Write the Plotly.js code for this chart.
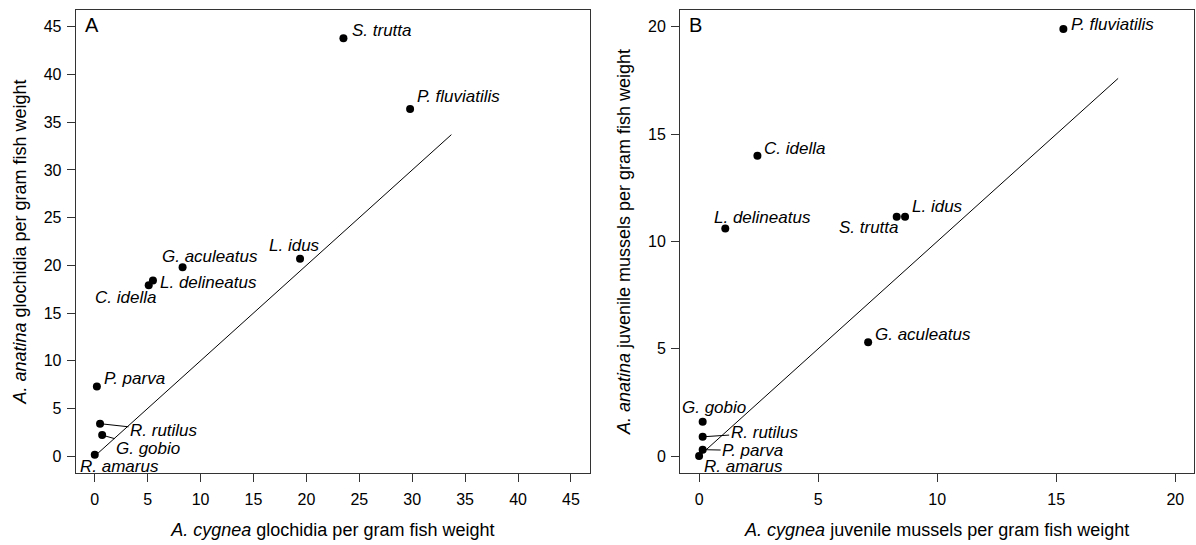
<!DOCTYPE html>
<html>
<head>
<meta charset="utf-8">
<script src="https://cdn.plot.ly/plotly-3.0.1.min.js"></script>
<style>html,body{margin:0;padding:0;background:#fff;}#chart{width:1196px;height:545px;}</style>
</head>
<body>
<div id="chart"></div>
<script>
// Panel A: glochidia per gram fish weight
const speciesA = ["S. trutta","P. fluviatilis","L. idus","G. aculeatus","L. delineatus","C. idella","P. parva","R. rutilus","G. gobio","R. amarus"];
const cygneaA  = [23.5, 29.8, 19.4, 8.3, 5.5, 5.1, 0.2, 0.5, 0.7, 0.0];
const anatinaA = [43.8, 36.4, 20.7, 19.8, 18.4, 17.9, 7.3, 3.4, 2.2, 0.15];
const lineA_x  = [0, 33.7];
const lineA_y  = [0, 33.7];

// Panel B: juvenile mussels per gram fish weight
const speciesB = ["P. fluviatilis","C. idella","L. delineatus","S. trutta","L. idus","G. aculeatus","G. gobio","R. rutilus","P. parva","R. amarus"];
const cygneaB  = [15.3, 2.45, 1.1, 8.3, 8.65, 7.1, 0.15, 0.15, 0.15, 0.0];
const anatinaB = [19.9, 14.0, 10.6, 11.15, 11.15, 5.3, 1.6, 0.9, 0.3, 0.0];
const lineB_x  = [0.1, 17.6];
const lineB_y  = [0.1, 17.6];

const ticksA = [0,5,10,15,20,25,30,35,40,45];
const ticksB = [0,5,10,15,20];

// label placement (pixel offsets), style only
const placeA = {
  "S. trutta":{a:"left",dx:7,dy:8},
  "P. fluviatilis":{a:"left",dx:5,dy:12},
  "L. idus":{a:"center",dx:-6,dy:13},
  "G. aculeatus":{a:"center",dx:27,dy:11},
  "L. delineatus":{a:"left",dx:5,dy:-2},
  "C. idella":{a:"right",dx:9,dy:-12},
  "P. parva":{a:"left",dx:5,dy:8},
  "R. rutilus":{arrow:true,ax:64,ay:7},
  "G. gobio":{arrow:true,ax:46,ay:13},
  "R. amarus":{a:"center",dx:25,dy:-12}
};
const placeB = {
  "P. fluviatilis":{a:"left",dx:6,dy:5},
  "C. idella":{a:"left",dx:5,dy:7},
  "L. delineatus":{a:"center",dx:37,dy:11},
  "S. trutta":{a:"right",dx:4,dy:-11},
  "L. idus":{a:"left",dx:5,dy:10},
  "G. aculeatus":{a:"left",dx:5,dy:8},
  "G. gobio":{a:"center",dx:11,dy:14},
  "R. rutilus":{arrow:true,ax:62,ay:-4},
  "P. parva":{arrow:true,ax:50,ay:1},
  "R. amarus":{a:"center",dx:44,dy:-10}
};

const FONT = "Liberation Sans, Arial, sans-serif";
const labFont = {family: FONT, size: 17, color: "#000"};

function labels(names, xs, ys, place, xr, yr) {
  return names.map((n, i) => {
    const p = place[n];
    const base = {x: xs[i], y: ys[i], xref: xr, yref: yr, text: "<i>" + n + "</i>", font: labFont};
    if (p.arrow) {
      return Object.assign(base, {showarrow: true, arrowhead: 0, arrowwidth: 1, arrowcolor: "#000",
        ax: p.ax, ay: p.ay, standoff: 3, xanchor: "center", yanchor: "middle"});
    }
    return Object.assign(base, {showarrow: false, xanchor: p.a, yanchor: "middle", xshift: p.dx, yshift: p.dy});
  });
}

const traces = [
  {x: lineA_x, y: lineA_y, xaxis: "x", yaxis: "y", mode: "lines", line: {color: "#000", width: 1}, hoverinfo: "skip"},
  {x: cygneaA, y: anatinaA, text: speciesA, xaxis: "x", yaxis: "y", mode: "markers", marker: {color: "#000", size: 8}},
  {x: lineB_x, y: lineB_y, xaxis: "x2", yaxis: "y2", mode: "lines", line: {color: "#000", width: 1}, hoverinfo: "skip"},
  {x: cygneaB, y: anatinaB, text: speciesB, xaxis: "x2", yaxis: "y2", mode: "markers", marker: {color: "#000", size: 8}}
];

function axis(extra) {
  return Object.assign({
    showgrid: false, zeroline: false, showline: true, mirror: true, linecolor: "#333", linewidth: 1,
    ticks: "outside", ticklen: 8, tickwidth: 1, tickcolor: "#333",
    tickfont: {family: FONT, size: 16, color: "#000"}, tickmode: "array", automargin: false
  }, extra);
}

const layout = {
  width: 1196, height: 545,
  margin: {l: 0, r: 0, t: 0, b: 0},
  paper_bgcolor: "#fff", plot_bgcolor: "#fff",
  showlegend: false,
  xaxis: axis({domain: [0.0633, 0.4933], range: [-1.8, 46.8], tickvals: ticksA, ticktext: ticksA.map(String), anchor: "y",
    ticklabelstandoff: 4,
    title: {text: "<i>A. cygnea</i> glochidia per gram fish weight", font: {family: FONT, size: 18, color: "#000"}, standoff: 15}}),
  yaxis: axis({domain: [0.1316, 0.9822], range: [-1.8, 46.8], tickvals: ticksA, ticktext: ticksA.map(String), anchor: "x",
    ticklabelstandoff: 2,
    title: {text: "<i>A. anatina</i> glochidia per gram fish weight", font: {family: FONT, size: 18, color: "#000"}, standoff: 12}}),
  xaxis2: axis({domain: [0.5686, 0.9986], range: [-0.8, 20.8], tickvals: ticksB, ticktext: ticksB.map(String), anchor: "y2",
    ticklabelstandoff: 4,
    title: {text: "<i>A. cygnea</i> juvenile mussels per gram fish weight", font: {family: FONT, size: 18, color: "#000"}, standoff: 15}}),
  yaxis2: axis({domain: [0.1316, 0.9822], range: [-0.8, 20.8], tickvals: ticksB, ticktext: ticksB.map(String), anchor: "x2",
    ticklabelstandoff: 2,
    title: {text: "<i>A. anatina</i> juvenile mussels per gram fish weight", font: {family: FONT, size: 18, color: "#000"}, standoff: 12}}),
  annotations: [
    {text: "A", xref: "x domain", yref: "y domain", x: 0, y: 1, xanchor: "left", yanchor: "middle", xshift: 7, yshift: -15, showarrow: false, font: {family: FONT, size: 20, color: "#000"}},
    {text: "B", xref: "x2 domain", yref: "y2 domain", x: 0, y: 1, xanchor: "left", yanchor: "middle", xshift: 7, yshift: -15, showarrow: false, font: {family: FONT, size: 20, color: "#000"}}
  ].concat(labels(speciesA, cygneaA, anatinaA, placeA, "x", "y"))
   .concat(labels(speciesB, cygneaB, anatinaB, placeB, "x2", "y2"))
};

Plotly.newPlot("chart", traces, layout, {displayModeBar: false, staticPlot: true});
</script>
</body>
</html>
